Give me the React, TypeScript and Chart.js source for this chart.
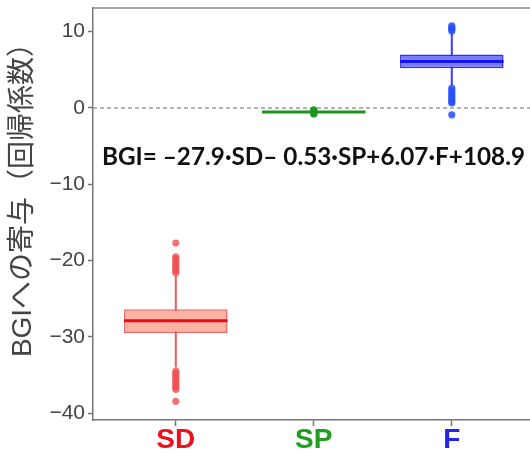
import { useEffect, useRef } from "react";
import { Chart, registerables } from "chart.js";

Chart.register(...registerables);

const categories = ["SD", "SP", "F"];
const labelColors = ["#e8131f", "#1f9e1f", "#2323ee"];
const boxFill = ["#fcb3a3", "#27a027", "#7b7bff"];
const boxBorder = ["rgba(236,70,70,0.85)", "#27a027", "#2e2eff"];
const medianColor = ["#ee0a1a", "#1c961c", "#1414f0"];
const whiskerColor = ["#ee5a5a", "#27a027", "#3a3aff"];
const outlierColor = ["rgba(240,80,80,0.8)", "rgba(30,150,30,0.9)", "rgba(40,80,255,0.85)"];

const q1 = [-29.5, -0.6, 5.2];
const median = [-27.9, -0.53, 6.1];
const q3 = [-26.4, -0.46, 7.0];
const whiskerLow = [-34.0, -0.62, 3.0];
const whiskerHigh = [-22.0, -0.44, 9.8];

const outliersSD = [-17.7, -19.5, -19.8, -20.1, -20.4, -20.7, -21.0, -21.3, -21.6, -34.5, -34.8, -35.1, -35.4, -35.7, -36.0, -36.3, -36.6, -36.9, -38.45];
const outliersSP = [-0.26, -0.4, -0.55, -0.68, -0.79];
const outliersF = [10.1, 10.3, 10.5, 10.75, 2.6, 2.3, 2.0, 1.7, 1.4, 1.1, 0.85, 0.65, -0.9];
const outliers = [outliersSD, outliersSP, outliersF];

const yTicks = [-40, -30, -20, -10, 0, 10];
const yMin = -40.9;
const yMax = 13.1;
const xMin = 0.4;
const xMax = 3.6;
const boxWidth = 0.75;

const yTitle = "BGIへの寄与（回帰係数）";
const equation = "BGI= –27.9·SD– 0.53·SP+6.07·F+108.9";

export default function App() {
  const ref = useRef<HTMLCanvasElement | null>(null);

  useEffect(() => {
    const canvas = ref.current;
    if (!canvas) return;

    const datasets: any[] = [];

    // zero reference line
    datasets.push({
      type: "line",
      data: [
        { x: xMin, y: 0 },
        { x: xMax, y: 0 },
      ],
      borderColor: "#9a9a9a",
      borderWidth: 1.5,
      borderDash: [4, 3],
      pointRadius: 0,
      order: 10,
    });

    categories.forEach((_, i) => {
      datasets.push({
        type: "line",
        data: [
          { x: i + 1, y: whiskerLow[i] },
          { x: i + 1, y: whiskerHigh[i] },
        ],
        borderColor: whiskerColor[i],
        borderWidth: 2,
        pointRadius: 0,
        order: 8,
      });
    });

    datasets.push({
      type: "bar",
      data: categories.map((_, i) => ({ x: i + 1, y: [q1[i], q3[i]] })),
      backgroundColor: boxFill,
      borderColor: boxBorder,
      borderWidth: 1.5,
      borderSkipped: false,
      categoryPercentage: 1,
      barPercentage: boxWidth,
      order: 6,
    });

    categories.forEach((_, i) => {
      datasets.push({
        type: "line",
        data: [
          { x: i + 1 - boxWidth / 2, y: median[i] },
          { x: i + 1 + boxWidth / 2, y: median[i] },
        ],
        borderColor: medianColor[i],
        borderWidth: 3,
        pointRadius: 0,
        order: 4,
      });
    });

    categories.forEach((_, i) => {
      datasets.push({
        type: "scatter",
        data: outliers[i].map((v) => ({ x: i + 1, y: v })),
        backgroundColor: outlierColor[i],
        borderWidth: 0,
        pointRadius: 3.6,
        order: 2,
      });
    });

    const overlay = {
      id: "overlay",
      afterDatasetsDraw(chart: any) {
        const { ctx, chartArea } = chart;
        ctx.save();
        ctx.strokeStyle = "#8a8a8a";
        ctx.lineWidth = 1.5;
        ctx.beginPath();
        ctx.moveTo(chartArea.left, chartArea.top);
        ctx.lineTo(chartArea.right, chartArea.top);
        ctx.lineTo(chartArea.right, chartArea.bottom);
        ctx.stroke();
        ctx.restore();
      },
      afterDraw(chart: any) {
        const { ctx } = chart;
        ctx.save();
        ctx.fillStyle = "#111";
        ctx.font = "bold 25px Lato, 'Open Sans', sans-serif";
        ctx.textAlign = "center";
        ctx.textBaseline = "middle";
        ctx.fillText(equation, 313.5, 157, 423);
        ctx.restore();

        ctx.save();
        ctx.translate(23, 193);
        ctx.rotate(-Math.PI / 2);
        ctx.fillStyle = "#444";
        ctx.font = "28px 'Liberation Sans', 'Noto Sans CJK JP', sans-serif";
        ctx.textAlign = "center";
        ctx.textBaseline = "middle";
        ctx.fillText(yTitle, 0, 0);
        ctx.restore();
      },
    };

    const chart = new Chart(canvas, {
      type: "bar",
      data: { datasets },
      plugins: [overlay],
      options: {
        responsive: false,
        maintainAspectRatio: false,
        animation: false,
        layout: { padding: { top: 8, right: 5.4, left: 0, bottom: 0 } },
        plugins: { legend: { display: false }, tooltip: { enabled: false } },
        scales: {
          x: {
            type: "linear",
            min: xMin,
            max: xMax,
            offset: false,
            afterBuildTicks: (scale: any) => {
              scale.ticks = categories.map((_, i) => ({ value: i + 1 }));
            },
            afterFit: (scale: any) => {
              scale.height = 33;
              scale.paddingLeft = 0;
              scale.paddingRight = 0;
            },
            ticks: {
              autoSkip: false,
              maxRotation: 0,
              padding: -3,
              callback: (v: any) => categories[Math.round(Number(v)) - 1] ?? "",
              color: (c: any) => labelColors[c.index] ?? "#000",
              font: { family: "'Liberation Sans', Arial, sans-serif", size: 28, weight: "bold" },
            },
            grid: { display: true, offset: false, drawOnChartArea: false, tickLength: 6, tickColor: "#777", tickWidth: 1.5 },
            border: { display: true, color: "#777", width: 1.5 },
          },
          y: {
            type: "linear",
            min: yMin,
            max: yMax,
            afterBuildTicks: (scale: any) => {
              scale.ticks = yTicks.map((v) => ({ value: v }));
            },
            afterFit: (scale: any) => {
              scale.width = 93;
              scale.paddingTop = 0;
              scale.paddingBottom = 0;
            },
            ticks: {
              padding: 3,
              color: "#444",
              callback: (v: any) => (Number(v) < 0 ? "−" + Math.abs(Number(v)) : String(v)),
              font: { family: "'Liberation Sans', Arial, sans-serif", size: 21 },
            },
            grid: { display: true, drawOnChartArea: false, tickLength: 5, tickColor: "#777", tickWidth: 1.5 },
            border: { display: true, color: "#777", width: 1.5 },
          },
        },
      } as any,
    });

    return () => chart.destroy();
  }, []);

  return (
    <div style={{ position: "fixed", left: 0, top: 0, width: 530, height: 453, overflow: "hidden", background: "#fff" }}>
      <canvas ref={ref} width={540} height={453} style={{ display: "block", width: 540, height: 453 }} />
    </div>
  );
}
